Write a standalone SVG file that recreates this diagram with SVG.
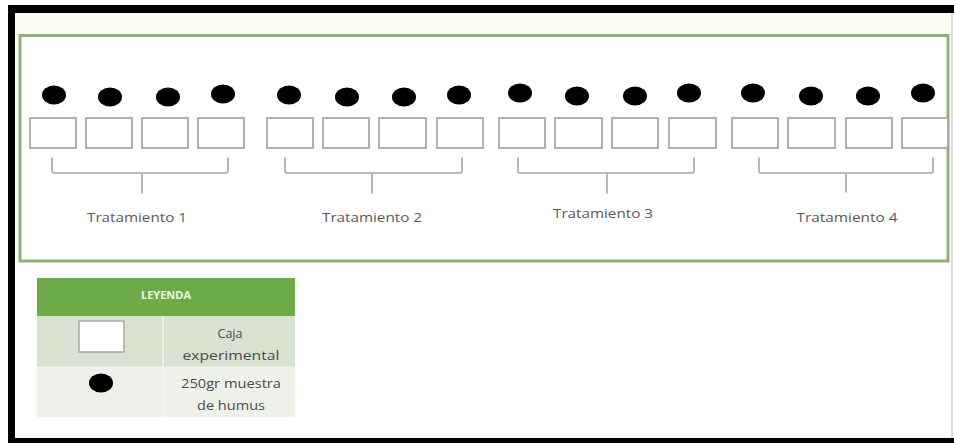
<svg xmlns="http://www.w3.org/2000/svg" width="954" height="443" viewBox="0 0 954 443">
<style>
.box{fill:#fff;stroke:#a8a8a8;stroke-width:1.8}
.dot{fill:#000}
.br{fill:none;stroke:#a6a6a6;stroke-width:1.6;stroke-linejoin:round;stroke-linecap:round}
.lbl{font-family:"Open Sans","Liberation Sans",sans-serif;font-size:13.5px;fill:#5a5a5a;text-anchor:middle}
.lg{font-family:"Open Sans","Liberation Sans",sans-serif;font-size:12.5px;fill:#4a4a4a;text-anchor:middle}
</style>
<rect x="0" y="0" width="954" height="443" fill="#fff"/>
<rect x="15" y="13" width="935" height="25" fill="#fbfdf2"/>
<g id="frame">
<rect x="8" y="5" width="946" height="8" fill="#000"/>
<rect x="8" y="5" width="7" height="438" fill="#000"/>
<rect x="8" y="438" width="946" height="5" fill="#000"/>
<line x1="952" y1="13" x2="952" y2="438" stroke="#cfcfcf" stroke-width="1.5"/>
</g>
<rect id="panel" x="20" y="35.5" width="928" height="225.5" fill="#fff" stroke="#8fb274" stroke-width="3"/>
<g id="group1">
<ellipse class="dot" cx="54" cy="95" rx="12" ry="9.5"/>
<ellipse class="dot" cx="110" cy="97" rx="12" ry="9.5"/>
<ellipse class="dot" cx="168" cy="97" rx="12" ry="9.5"/>
<ellipse class="dot" cx="223" cy="94" rx="12" ry="9.5"/>
<rect class="box" x="30" y="118" width="46" height="30"/>
<rect class="box" x="86" y="118" width="46" height="30"/>
<rect class="box" x="142" y="118" width="46" height="30"/>
<rect class="box" x="198" y="118" width="46" height="30"/>
</g>
<g id="group2">
<ellipse class="dot" cx="289" cy="95" rx="12" ry="9.5"/>
<ellipse class="dot" cx="347" cy="97" rx="12" ry="9.5"/>
<ellipse class="dot" cx="404" cy="97" rx="12" ry="9.5"/>
<ellipse class="dot" cx="459" cy="95" rx="12" ry="9.5"/>
<rect class="box" x="267" y="118" width="46" height="30"/>
<rect class="box" x="323" y="118" width="46" height="30"/>
<rect class="box" x="379" y="118" width="47" height="30"/>
<rect class="box" x="437" y="118" width="46" height="30"/>
</g>
<g id="group3">
<ellipse class="dot" cx="520" cy="93" rx="12" ry="9.5"/>
<ellipse class="dot" cx="577" cy="96" rx="12" ry="9.5"/>
<ellipse class="dot" cx="635" cy="96" rx="12" ry="9.5"/>
<ellipse class="dot" cx="689" cy="93" rx="12" ry="9.5"/>
<rect class="box" x="499" y="118" width="46" height="30"/>
<rect class="box" x="555" y="118" width="47" height="30"/>
<rect class="box" x="612" y="118" width="46" height="30"/>
<rect class="box" x="669" y="118" width="47" height="30"/>
</g>
<g id="group4">
<ellipse class="dot" cx="753" cy="93" rx="12" ry="9.5"/>
<ellipse class="dot" cx="811" cy="96" rx="12" ry="9.5"/>
<ellipse class="dot" cx="868" cy="96" rx="12" ry="9.5"/>
<ellipse class="dot" cx="923" cy="93" rx="12" ry="9.5"/>
<rect class="box" x="732" y="118" width="46" height="30"/>
<rect class="box" x="788" y="118" width="47" height="30"/>
<rect class="box" x="846" y="118" width="46" height="30"/>
<rect class="box" x="902" y="118" width="46" height="30"/>
</g>
<g id="connectors">
<path class="br" d="M52,158 V171 Q52,173 54,173 H226 Q228,173 228,171 V158 M142,173 V193"/>
<path class="br" d="M285,158 V171 Q285,173 287,173 H460 Q462,173 462,171 V158 M372,173 V193"/>
<path class="br" d="M518,158 V171 Q518,173 520,173 H692 Q694,173 694,171 V158 M607,173 V193"/>
<path class="br" d="M759,158 V171 Q759,173 761,173 H931 Q933,173 933,171 V158 M846,173 V192"/>
</g>
<g id="labels">
<text class="lbl" x="137" y="222" textLength="100" lengthAdjust="spacingAndGlyphs">Tratamiento 1</text>
<text class="lbl" x="372" y="222" textLength="100" lengthAdjust="spacingAndGlyphs">Tratamiento 2</text>
<text class="lbl" x="603" y="218" textLength="100" lengthAdjust="spacingAndGlyphs">Tratamiento 3</text>
<text class="lbl" x="847" y="222" textLength="101" lengthAdjust="spacingAndGlyphs">Tratamiento 4</text>
</g>
<g id="legend">
<rect x="37" y="278" width="258" height="38" fill="#6cab46"/>
<text x="166" y="299" font-family="'Open Sans','Liberation Sans',sans-serif" font-size="11px" font-weight="bold" fill="#eef7e4" text-anchor="middle">LEYENDA</text>
<rect x="37" y="316" width="258" height="51" fill="#d9e2d0"/>
<rect x="37" y="367" width="258" height="50" fill="#eef1ea"/>
<line x1="163" y1="316" x2="163" y2="417" stroke="#f4f6f1" stroke-width="1.5"/>
<line x1="37" y1="367" x2="295" y2="367" stroke="#f4f6f1" stroke-width="1"/>
<rect x="79" y="321" width="45" height="31" fill="#fff" stroke="#a8a8a8" stroke-width="1.5"/>
<ellipse class="dot" cx="101" cy="383" rx="12" ry="9.5"/>
<text class="lg" x="230" y="338">Caja</text>
<text class="lg" x="231" y="360" textLength="97" lengthAdjust="spacingAndGlyphs">experimental</text>
<text class="lg" x="231" y="388" textLength="100" lengthAdjust="spacingAndGlyphs">250gr muestra</text>
<text class="lg" x="231" y="410" textLength="68" lengthAdjust="spacingAndGlyphs">de humus</text>
</g>
</svg>
